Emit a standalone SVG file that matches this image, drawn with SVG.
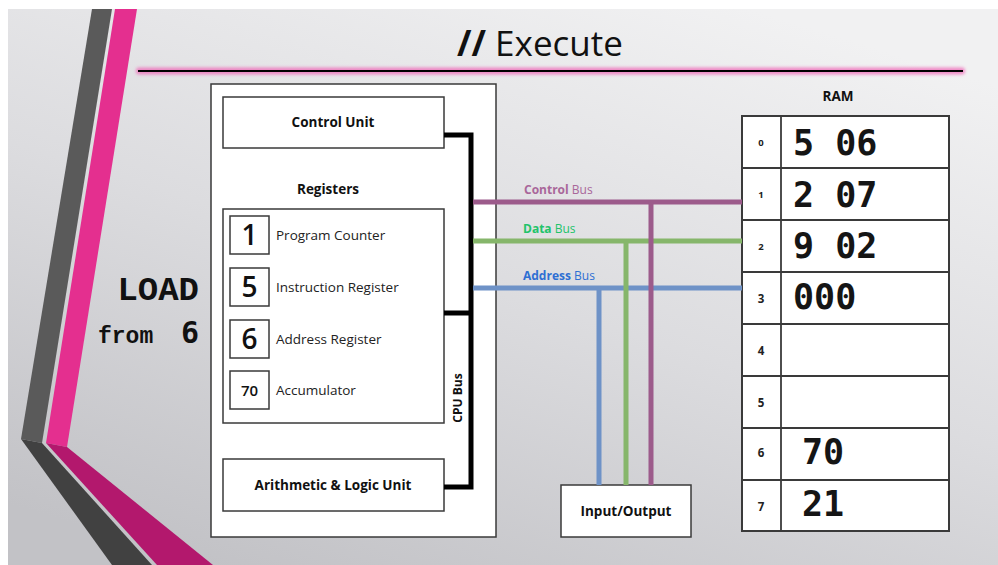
<svg xmlns="http://www.w3.org/2000/svg" width="998" height="565" viewBox="0 0 998 565">
  <defs>
    <linearGradient id="slideBg" x1="0.75" y1="0" x2="0.2" y2="1">
      <stop offset="0" stop-color="#f1f1f2"/>
      <stop offset="0.5" stop-color="#dcdcdf"/>
      <stop offset="1" stop-color="#c2c2c6"/>
    </linearGradient>
    <filter id="glow" filterUnits="userSpaceOnUse" x="120" y="55" width="860" height="32">
      <feGaussianBlur stdDeviation="1.4"/>
    </filter>
    <style>
      .box { fill: #ffffff; stroke: #3a3a3a; stroke-width: 1.5; }
      .lbl { font-family: "Open Sans", "Noto Sans", sans-serif; font-size: 13.5px; fill: #111; }
      .bold { font-weight: 700; }
      .reg { font-family: "Open Sans", "Noto Sans", sans-serif; font-size: 13.5px; fill: #222; }
      .digit { font-family: "Open Sans", "Noto Sans", sans-serif; font-weight: 600; fill: #111; text-anchor: middle; }
      .mono { font-family: "DejaVu Sans Mono", "Liberation Mono", monospace; font-weight: 700; font-size: 35px; fill: #151515; }
      .idx { font-family: "Open Sans", sans-serif; font-weight: 700; fill: #222; text-anchor: middle; }
      .busLbl { font-family: "Open Sans", "Noto Sans", sans-serif; font-size: 12px; }
      .cpuBus { fill: none; stroke: #000; stroke-width: 5; stroke-linejoin: miter; }
      .bus { fill: none; stroke-width: 5; }
    </style>
  </defs>

  <!-- slide canvas -->
  <rect x="0" y="0" width="998" height="565" fill="#ffffff"/>
  <rect x="8" y="9" width="990" height="556" fill="url(#slideBg)"/>

  <!-- left decorative ribbons -->
  <g id="ribbons">
    <polygon points="92,9 112,9 42,443 21,439" fill="#5a5a5a"/>
    <polygon points="115,9 137,9 67,447 46,443" fill="#e42f8f"/>
    <polygon points="21,439 42,443 152,565 112,565" fill="#414141"/>
    <polygon points="46,443 67,447 213,565 157,565" fill="#b3186d"/>
  </g>

  <!-- title -->
  <g id="title">
    <text x="540" y="56" text-anchor="middle" font-family="'Open Sans', 'Noto Sans', sans-serif" font-size="35" fill="#111"><tspan font-weight="700">//</tspan> Execute</text>
    <rect x="136" y="67.5" width="829" height="7" rx="3" fill="#f060b5" fill-opacity="0.7" filter="url(#glow)"/>
    <line x1="138" y1="71" x2="963" y2="71" stroke="#000" stroke-width="2.2"/>
  </g>

  <!-- instruction being executed -->
  <g id="instruction">
    <text x="199" y="300" text-anchor="end" font-family="'Liberation Mono', 'Courier New', monospace" font-weight="700" font-size="34" fill="#111">LOAD</text>
    <text x="98" y="343" font-family="'Liberation Mono', 'Courier New', monospace" font-weight="700" font-size="23" fill="#111">from</text>
    <text x="199" y="343" text-anchor="end" font-family="'DejaVu Sans Mono', monospace" font-weight="700" font-size="30" fill="#111">6</text>
  </g>

  <!-- CPU -->
  <g id="cpu">
    <rect class="box" x="211" y="84" width="285" height="453" stroke="#444"/>
  </g>

  <g id="control-unit">
    <rect class="box" x="223" y="97" width="221" height="51"/>
    <text class="lbl bold" x="333" y="127" text-anchor="middle">Control Unit</text>
  </g>

  <g id="registers">
    <text class="lbl bold" x="328" y="194" text-anchor="middle">Registers</text>
    <rect class="box" x="223" y="209" width="221" height="214"/>
  </g>

  <g id="program-counter">
    <rect class="box" x="230" y="216" width="39" height="38"/>
    <text class="digit" x="249.5" y="245" font-size="28">1</text>
    <text class="reg" x="276" y="240">Program Counter</text>
  </g>

  <g id="instruction-register">
    <rect class="box" x="230" y="268" width="39" height="38"/>
    <text class="digit" x="249.5" y="297" font-size="28">5</text>
    <text class="reg" x="276" y="292">Instruction Register</text>
  </g>

  <g id="address-register">
    <rect class="box" x="230" y="320" width="39" height="38"/>
    <text class="digit" x="249.5" y="349" font-size="28">6</text>
    <text class="reg" x="276" y="344">Address Register</text>
  </g>

  <g id="accumulator">
    <rect class="box" x="230" y="371" width="39" height="38"/>
    <text class="digit" x="249.5" y="396" font-size="15">70</text>
    <text class="reg" x="276" y="395">Accumulator</text>
  </g>

  <g id="alu">
    <rect class="box" x="223" y="459" width="221" height="52"/>
    <text class="lbl bold" x="333" y="490" text-anchor="middle">Arithmetic &amp; Logic Unit</text>
  </g>

  <g id="input-output">
    <rect class="box" x="561" y="485" width="130" height="52"/>
    <text class="lbl bold" x="626" y="516" text-anchor="middle">Input/Output</text>
  </g>

  <!-- RAM -->
  <g id="ram">
    <text class="lbl bold" x="838" y="101" text-anchor="middle">RAM</text>
    <rect x="742" y="116" width="207" height="415" fill="#fff" stroke="#3a3a3a" stroke-width="2"/>
    <g stroke="#3a3a3a" stroke-width="1.8">
      <line x1="781" y1="116" x2="781" y2="531"/>
      <line x1="742" y1="168" x2="949" y2="168"/>
      <line x1="742" y1="220" x2="949" y2="220"/>
      <line x1="742" y1="272" x2="949" y2="272"/>
      <line x1="742" y1="324" x2="949" y2="324"/>
      <line x1="742" y1="376" x2="949" y2="376"/>
      <line x1="742" y1="428" x2="949" y2="428"/>
      <line x1="742" y1="480" x2="949" y2="480"/>
    </g>
    <text class="idx" x="761" y="146" font-size="9.5">0</text>
    <text class="idx" x="761" y="198" font-size="9.5">1</text>
    <text class="idx" x="761" y="250" font-size="9.5">2</text>
    <text class="idx" x="761" y="303" font-size="11.5">3</text>
    <text class="idx" x="761" y="355" font-size="11.5">4</text>
    <text class="idx" x="761" y="407" font-size="11.5">5</text>
    <text class="idx" x="761" y="457" font-size="11.5">6</text>
    <text class="idx" x="761" y="511" font-size="11.5">7</text>
    <text class="mono" x="793" y="155" xml:space="preserve">5 06</text>
    <text class="mono" x="793" y="207" xml:space="preserve">2 07</text>
    <text class="mono" x="793" y="258" xml:space="preserve">9 02</text>
    <text class="mono" x="793" y="309">000</text>
    <text class="mono" x="802" y="464">70</text>
    <text class="mono" x="802" y="516">21</text>
  </g>

  <!-- connectors -->
  <g id="connectors">
    <path class="cpuBus" d="M444,135 H471 V487 H444"/>
    <path class="cpuBus" d="M444,313 H471"/>
    <text class="busLbl bold" x="462" y="398" text-anchor="middle" transform="rotate(-90 462 398)" fill="#111">CPU Bus</text>

    <path class="bus" stroke="#9c5b8b" d="M473,202 H742"/>
    <path class="bus" stroke="#86b66b" d="M473,241 H742"/>
    <path class="bus" stroke="#6e92c7" d="M473,288 H742"/>
    <path class="bus" stroke="#6e92c7" d="M599,288 V485"/>
    <path class="bus" stroke="#86b66b" d="M626,241 V485"/>
    <path class="bus" stroke="#9c5b8b" d="M651,202 V485"/>

    <text class="busLbl" x="524" y="194" fill="#a9679a"><tspan font-weight="700">Control</tspan> Bus</text>
    <text class="busLbl" x="523" y="233" fill="#22c36a"><tspan font-weight="700">Data</tspan> Bus</text>
    <text class="busLbl" x="523" y="280" fill="#2e6fd3"><tspan font-weight="700">Address</tspan> Bus</text>
  </g>
</svg>
